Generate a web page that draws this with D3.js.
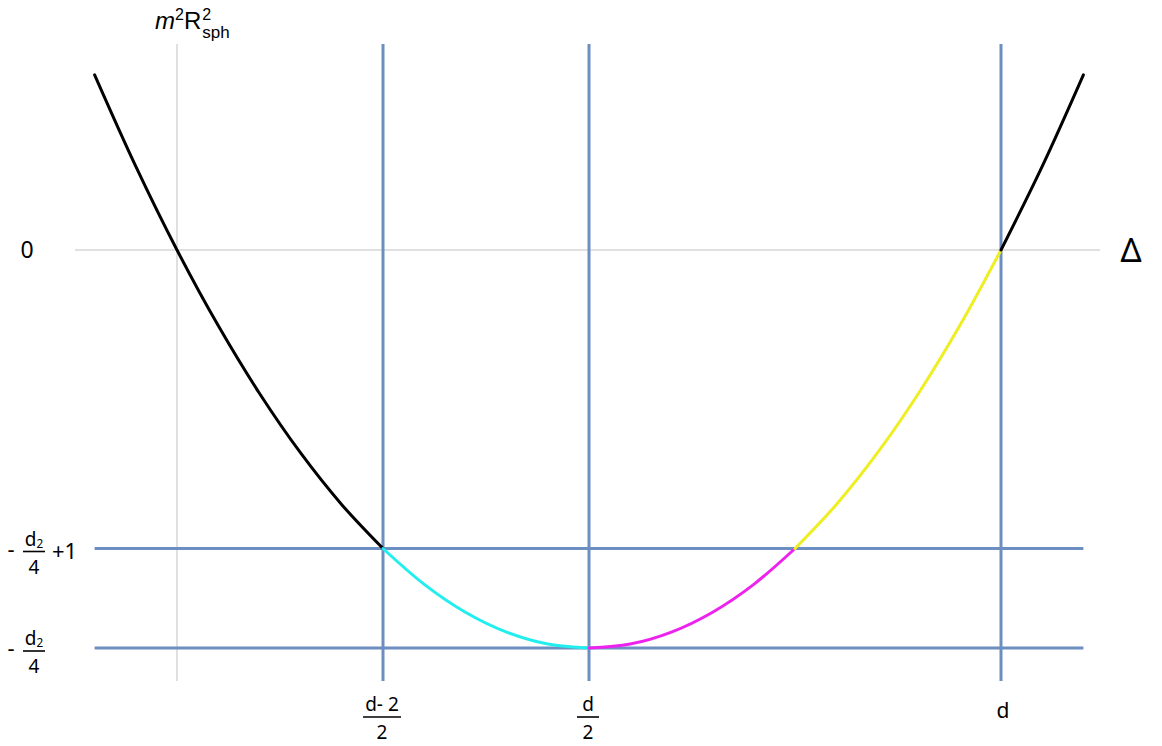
<!DOCTYPE html>
<html>
<head>
<meta charset="utf-8">
<script src="https://cdn.jsdelivr.net/npm/d3@7"></script>
<style>
  html, body { margin: 0; padding: 0; background: #fff; }
  svg { display: block; font-family: "Noto Sans", "DejaVu Sans", sans-serif; }
</style>
</head>
<body>
<svg id="chart" width="1162" height="746"></svg>
<script>
// m²R²_sph as a function of Δ, with d = 4
const dValue = 4;
const deltaValues = [-0.4, -0.2, 0, 0.2, 0.4, 0.6, 0.8, 1.0, 1.2, 1.4, 1.6, 1.8, 2.0,
                     2.2, 2.4, 2.6, 2.8, 3.0, 3.2, 3.4, 3.6, 3.8, 4.0, 4.2, 4.4];
const massValues = [1.76, 0.84, 0, -0.76, -1.44, -2.04, -2.56, -3, -3.36, -3.64, -3.84, -3.96, -4,
                    -3.96, -3.84, -3.64, -3.36, -3, -2.56, -2.04, -1.44, -0.76, 0, 0.84, 1.76];

// coloured ranges of the curve
const segmentStarts = [-0.4, 1, 2, 3, 4];
const segmentEnds   = [1, 2, 3, 4, 4.4];
const segmentColors = ["#000000", "#22eeee", "#ee22ee", "#eeee22", "#000000"];

// reference lines
const xGuides = [1, 2, 4];        // (d-2)/2, d/2, d
const yGuides = [-3, -4];         // -d²/4 + 1, -d²/4

const svg = d3.select("#chart");

const x = d3.scaleLinear().domain([-0.4, 4.4]).range([94.6, 1083.4]);
const y = d3.scaleLinear().domain([-4, 0]).range([648, 250]);

const GRID = "#d6d6d6";
const BLUE = "#6d8ec0";

// light axes through the origin
svg.append("line")
  .attr("x1", x(0)).attr("x2", x(0))
  .attr("y1", 44).attr("y2", 681)
  .attr("stroke", GRID).attr("stroke-width", 1.5);
svg.append("line")
  .attr("x1", 75).attr("x2", 1100)
  .attr("y1", y(0)).attr("y2", y(0))
  .attr("stroke", GRID).attr("stroke-width", 1.5);

// blue guide lines
svg.selectAll("line.vguide").data(xGuides).enter().append("line")
  .attr("class", "vguide")
  .attr("x1", d => x(d)).attr("x2", d => x(d))
  .attr("y1", 44).attr("y2", 681)
  .attr("stroke", BLUE).attr("stroke-width", 3);
svg.selectAll("line.hguide").data(yGuides).enter().append("line")
  .attr("class", "hguide")
  .attr("x1", x(-0.4)).attr("x2", x(4.4))
  .attr("y1", d => y(d)).attr("y2", d => y(d))
  .attr("stroke", BLUE).attr("stroke-width", 3);

// curve, split into coloured pieces
const points = deltaValues.map((dv, i) => ({ dx: dv, m: massValues[i] }));
const line = d3.line().x(p => x(p.dx)).y(p => y(p.m)).curve(d3.curveCatmullRom.alpha(0.5));

segmentStarts.forEach((s, i) => {
  const e = segmentEnds[i];
  const pts = points.filter(p => p.dx >= s - 1e-9 && p.dx <= e + 1e-9);
  svg.append("path")
    .attr("d", line(pts))
    .attr("fill", "none")
    .attr("stroke", segmentColors[i])
    .attr("stroke-width", 3)
    .attr("stroke-linecap", "round");
});

// ---- labels ----
// y-axis title m²R²_sph
const TITLE_FONT = "Liberation Sans, Arial, sans-serif";
const title = svg.append("text").attr("x", 155).attr("y", 29)
  .attr("font-family", TITLE_FONT).attr("font-size", 24).attr("fill", "#000");
title.append("tspan").attr("font-style", "italic").text("m");
title.append("tspan").attr("font-size", 16).attr("dy", -9).text("2");
title.append("tspan").attr("dy", 9).text("R");
const titleEnd = 155 + title.node().getComputedTextLength();
svg.append("text").attr("x", titleEnd + 1).attr("y", 20)
  .attr("font-family", TITLE_FONT).attr("font-size", 16).text("2");
svg.append("text").attr("x", titleEnd + 1).attr("y", 38)
  .attr("font-family", TITLE_FONT).attr("font-size", 17).text("sph");

// x-axis title
svg.append("text").attr("x", 1131).attr("y", y(0) + 12)
  .attr("text-anchor", "middle").attr("font-size", 33).text("Δ");

// zero label
svg.append("text").attr("x", 27).attr("y", y(0) + 8)
  .attr("text-anchor", "middle").attr("font-size", 23).text("0");

// fraction helper
function fraction(cx, barY, num, den, halfWidth, size) {
  const g = svg.append("g");
  const nt = g.append("text").attr("x", cx).attr("y", barY - 6)
    .attr("text-anchor", "middle").attr("font-size", size);
  num.forEach(part => {
    const t = nt.append("tspan").text(part.t);
    if (part.sub) t.attr("font-size", size * 0.62).attr("dy", 2);
  });
  g.append("line").attr("x1", cx - halfWidth).attr("x2", cx + halfWidth)
    .attr("y1", barY).attr("y2", barY).attr("stroke", "#000").attr("stroke-width", 1.6);
  g.append("text").attr("x", cx).attr("y", barY + 22)
    .attr("text-anchor", "middle").attr("font-size", size).text(den);
  return g;
}

// left tick labels: -d²/4 + 1 and -d²/4
const yLabelValues = [-3, -4];
const yLabelSuffix = ["+1", ""];
yLabelValues.forEach((v, i) => {
  const barY = y(v) + 3;
  svg.append("text").attr("x", 11).attr("y", barY + 5)
    .attr("text-anchor", "middle").attr("font-size", 22).text("-");
  fraction(34, barY, [{ t: "d" }, { t: "2", sub: true }], "4", 11, 19);
  if (yLabelSuffix[i]) {
    svg.append("text").attr("x", 52).attr("y", barY + 7)
      .attr("font-size", 22).text(yLabelSuffix[i]);
  }
});

// bottom tick labels
const xLabelValues = [1, 2];
const xLabelNums = ["d- 2", "d"];
const xLabelHalf = [19, 11];
xLabelValues.forEach((v, i) => {
  fraction(x(v) - 1, 717, [{ t: xLabelNums[i] }], "2", xLabelHalf[i], 19);
});
svg.append("text").attr("x", x(dValue) + 2).attr("y", 718)
  .attr("text-anchor", "middle").attr("font-size", 21).text("d");
</script>
</body>
</html>
